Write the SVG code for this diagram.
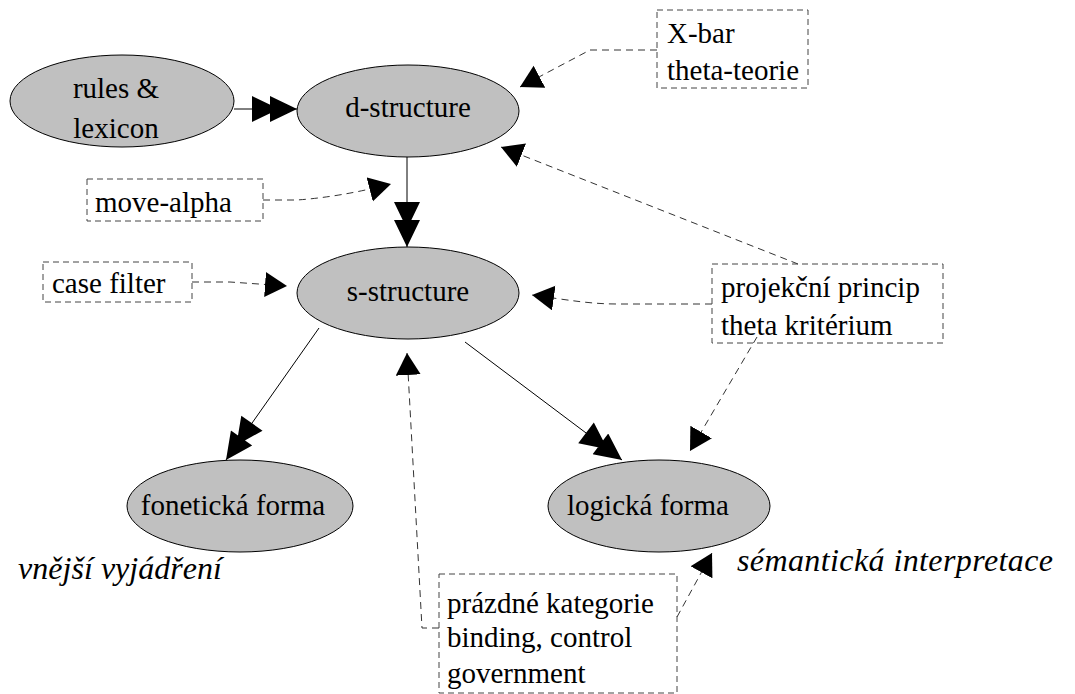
<svg xmlns="http://www.w3.org/2000/svg" width="1075" height="694" viewBox="0 0 1075 694" font-family="Liberation Serif, Times New Roman, serif">
  <style>
    .ell { fill: #c0c0c0; stroke: #000; stroke-width: 1; }
    .box { fill: none; stroke: #444; stroke-width: 1; stroke-dasharray: 6 4; }
    .lbl { font-size: 29px; fill: #000; }
    .mid { text-anchor: middle; }
    .note { font-size: 32px; font-style: italic; fill: #000; }
    .solid { fill: none; stroke: #000; stroke-width: 1; }
    .dash { fill: none; stroke: #333; stroke-width: 1; stroke-dasharray: 7 5; }
  </style>
  <defs>
    <!-- double filled arrowhead for the derivation steps -->
    <marker id="dbl" markerUnits="userSpaceOnUse" viewBox="0 0 46 26" markerWidth="46" markerHeight="26" refX="46" refY="13" orient="auto">
      <path d="M19,0 L46,13 L19,26 Z M1,0 L28,13 L1,26 Z" fill="#000"/>
    </marker>
    <!-- single filled arrowhead for constraints -->
    <marker id="tri" markerUnits="userSpaceOnUse" viewBox="0 0 23 26" markerWidth="23" markerHeight="26" refX="22" refY="12.5" orient="auto">
      <path d="M0,0 L22,12.5 L0,25 Z" fill="#000"/>
    </marker>
  </defs>
  <rect width="1075" height="694" fill="#fff"/>

  <!-- connectors -->
  <g id="connectors">
    <path class="solid" d="M234,109 L297,109" marker-end="url(#dbl)"/>
    <path class="solid" d="M407,157 L407,247" marker-end="url(#dbl)"/>
    <path class="solid" d="M319,328 L226,460" marker-end="url(#dbl)"/>
    <path class="solid" d="M465,342 L622,460" marker-end="url(#dbl)"/>

    <path class="dash" d="M657,50 L590,50 L520,87" marker-end="url(#tri)"/>
    <path class="dash" d="M263,200 L297,200 Q340,197 391,184" marker-end="url(#tri)"/>
    <path class="dash" d="M192,282 L230,282 L287,286" marker-end="url(#tri)"/>
    <path class="dash" d="M798,264 L501,147" marker-end="url(#tri)"/>
    <path class="dash" d="M712,304 L617,304 C590,304 568,300 532,295" marker-end="url(#tri)"/>
    <path class="dash" d="M757,337 L690,451" marker-end="url(#tri)"/>
    <path class="dash" d="M439,628 L422,628 L407,353" marker-end="url(#tri)"/>
    <path class="dash" d="M677,617 L712,553" marker-end="url(#tri)"/>
  </g>

  <!-- ellipse nodes -->
  <g id="node-rules">
    <ellipse class="ell" cx="122" cy="101" rx="112" ry="46"/>
    <text class="lbl mid" x="116" y="98">rules &amp;</text>
    <text class="lbl mid" x="116" y="138">lexicon</text>
  </g>
  <g id="node-dstructure">
    <ellipse class="ell" cx="408" cy="111" rx="111" ry="46"/>
    <text class="lbl mid" x="408" y="117">d-structure</text>
  </g>
  <g id="node-sstructure">
    <ellipse class="ell" cx="408" cy="293" rx="111" ry="46"/>
    <text class="lbl mid" x="408" y="301">s-structure</text>
  </g>
  <g id="node-fonetic">
    <ellipse class="ell" cx="240" cy="506" rx="113" ry="46"/>
    <text class="lbl mid" x="233" y="515">fonetická forma</text>
  </g>
  <g id="node-logic">
    <ellipse class="ell" cx="659" cy="506" rx="111" ry="46"/>
    <text class="lbl mid" x="648" y="515">logická forma</text>
  </g>

  <!-- dashed constraint boxes -->
  <g id="box-xbar">
    <rect class="box" x="657" y="10" width="151" height="78"/>
    <text class="lbl" x="667" y="43">X-bar</text>
    <text class="lbl" x="667" y="80">theta-teorie</text>
  </g>
  <g id="box-move">
    <rect class="box" x="87" y="179" width="176" height="42"/>
    <text class="lbl" x="95" y="212">move-alpha</text>
  </g>
  <g id="box-case">
    <rect class="box" x="43" y="262" width="149" height="40"/>
    <text class="lbl" x="52" y="293">case filter</text>
  </g>
  <g id="box-projection">
    <rect class="box" x="712" y="264" width="231" height="79"/>
    <text class="lbl" x="721" y="297">projekční princip</text>
    <text class="lbl" x="721" y="335">theta kritérium</text>
  </g>
  <g id="box-empty">
    <rect class="box" x="439" y="574" width="238" height="119"/>
    <text class="lbl" x="447" y="613">prázdné kategorie</text>
    <text class="lbl" x="447" y="647">binding, control</text>
    <text class="lbl" x="447" y="683">government</text>
  </g>

  <!-- interpretation notes -->
  <g id="note-phon">
    <text class="note" x="18" y="579" textLength="204" lengthAdjust="spacing">vnější vyjádření</text>
  </g>
  <g id="note-sem">
    <text class="note" x="737" y="571" textLength="316" lengthAdjust="spacing">sémantická interpretace</text>
  </g>
</svg>
